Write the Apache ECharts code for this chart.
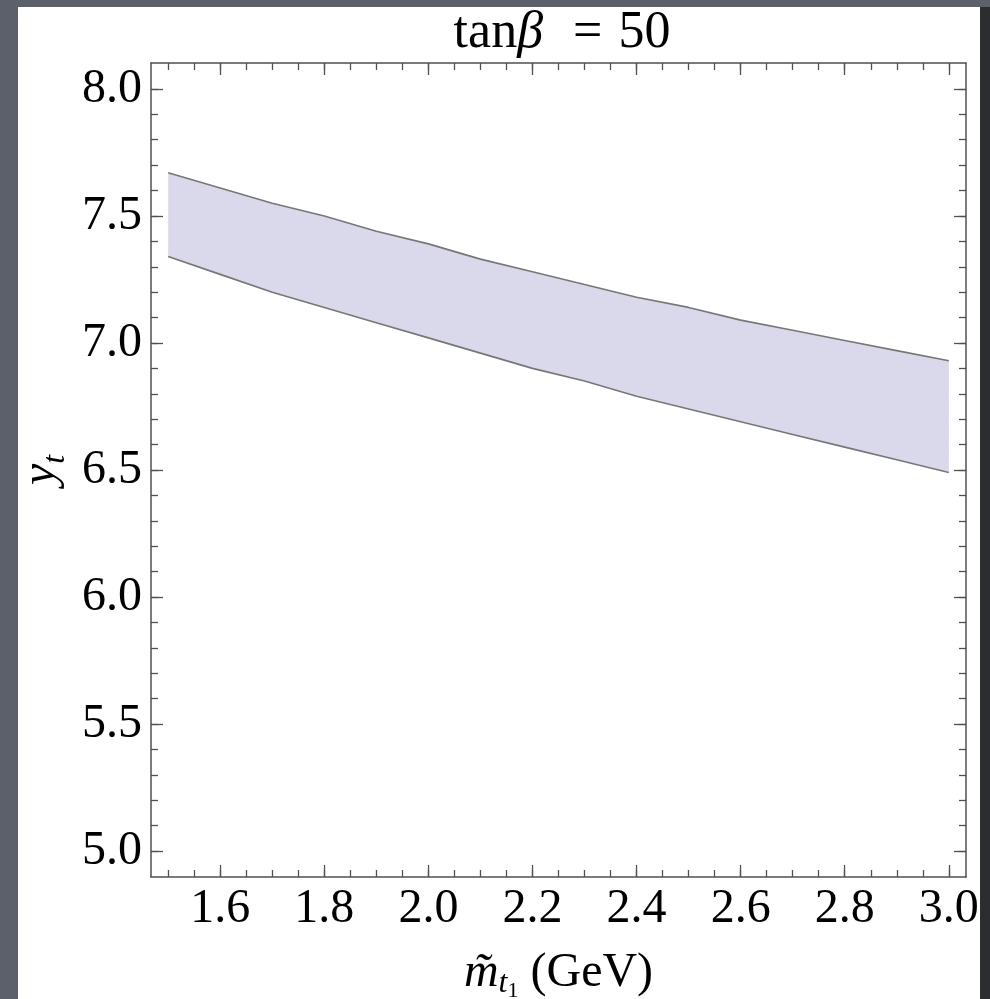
<!doctype html>
<html>
<head>
<meta charset="utf-8">
<title>tan beta = 50</title>
<script src="https://cdn.jsdelivr.net/npm/echarts@6/dist/echarts.min.js"></script>
<style>
  html, body { margin: 0; padding: 0; }
  body { width: 990px; height: 999px; background: #5c606a; position: relative; overflow: hidden; }
  #paper { position: absolute; left: 18px; top: 7px; width: 962px; height: 992px; background: #fff; }
  #edge { position: absolute; left: 980px; top: 7px; width: 10px; height: 992px; background: #2c2d31; }
  #main { position: absolute; left: 0; top: 0; width: 990px; height: 999px; }
</style>
</head>
<body>
<div id="paper"></div>
<div id="edge"></div>
<div id="main"></div>
<script>
// stop mass (GeV)
var mStop = [1.5, 1.6, 1.7, 1.8, 1.9, 2.0, 2.1, 2.2, 2.3, 2.4, 2.5, 2.6, 2.7, 2.8, 2.9, 3.0];
// band edges for y_t
var ytUpper = [7.67, 7.61, 7.55, 7.50, 7.44, 7.39, 7.33, 7.28, 7.23, 7.18, 7.14, 7.09, 7.05, 7.01, 6.97, 6.93];
var ytLower = [7.34, 7.27, 7.20, 7.14, 7.08, 7.02, 6.96, 6.90, 6.85, 6.79, 6.74, 6.69, 6.64, 6.59, 6.54, 6.49];

var xMajor = [1.6, 1.8, 2.0, 2.2, 2.4, 2.6, 2.8, 3.0];
var xMinor = [1.5, 1.55, 1.6, 1.65, 1.7, 1.75, 1.8, 1.85, 1.9, 1.95, 2.0, 2.05, 2.1, 2.15, 2.2, 2.25,
              2.3, 2.35, 2.4, 2.45, 2.5, 2.55, 2.6, 2.65, 2.7, 2.75, 2.8, 2.85, 2.9, 2.95, 3.0];
var yMajor = [5.0, 5.5, 6.0, 6.5, 7.0, 7.5, 8.0];
var yMinor = [5.0, 5.1, 5.2, 5.3, 5.4, 5.5, 5.6, 5.7, 5.8, 5.9, 6.0, 6.1, 6.2, 6.3, 6.4, 6.5,
              6.6, 6.7, 6.8, 6.9, 7.0, 7.1, 7.2, 7.3, 7.4, 7.5, 7.6, 7.7, 7.8, 7.9, 8.0];

var xMin = 1.467, xMax = 3.033;
var yMin = 4.898, yMax = 8.102;

var FONT = 'Liberation Serif';
var frame = '#505050';

function xAx(pos, ticks, len, labels, line) {
    return {
        type: 'value', position: pos, min: xMin, max: xMax, z: 10,
        axisLine: { show: line, onZero: false, lineStyle: { color: frame, width: 1.5 } },
        axisTick: { show: true, inside: true, length: len, customValues: ticks,
                    lineStyle: { color: frame, width: 1.3 } },
        axisLabel: labels ? {
            customValues: xMajor, margin: 8, color: '#000',
            fontFamily: FONT, fontSize: 48,
            formatter: function (v) { return v.toFixed(1); }
        } : { show: false },
        splitLine: { show: false }
    };
}
function yAx(pos, ticks, len, labels, line) {
    return {
        type: 'value', position: pos, min: yMin, max: yMax, z: 10,
        axisLine: { show: line, onZero: false, lineStyle: { color: frame, width: 1.5 } },
        axisTick: { show: true, inside: true, length: len, customValues: ticks,
                    lineStyle: { color: frame, width: 1.3 } },
        axisLabel: labels ? {
            customValues: yMajor, margin: 9, color: '#000',
            fontFamily: FONT, fontSize: 48,
            formatter: function (v) { return v.toFixed(1); }
        } : { show: false },
        splitLine: { show: false }
    };
}

var xAxes = [
    xAx('bottom', xMajor, 12, true, true),
    xAx('bottom', xMinor, 7, false, false),
    xAx('top', xMajor, 12, false, true),
    xAx('top', xMinor, 7, false, false)
];
var yAxes = [
    yAx('left', yMajor, 12, true, true),
    yAx('left', yMinor, 7, false, false),
    yAx('right', yMajor, 12, false, true),
    yAx('right', yMinor, 7, false, false)
];

xAxes[0].name = '{m|m\u0303}{t|t}{s|1}{r| (GeV)}';
xAxes[0].nameLocation = 'middle';
xAxes[0].nameGap = 72;
xAxes[0].nameTextStyle = {
    fontFamily: FONT, color: '#000',
    rich: {
        m: { fontFamily: FONT, fontStyle: 'italic', fontSize: 48, lineHeight: 48, verticalAlign: 'top', color: '#000' },
        t: { fontFamily: FONT, fontStyle: 'italic', fontSize: 32, lineHeight: 32, padding: [19, 0, 0, 0], verticalAlign: 'top', color: '#000' },
        s: { fontFamily: FONT, fontSize: 22, lineHeight: 22, padding: [31, 0, 0, 0], verticalAlign: 'top', color: '#000' },
        r: { fontFamily: FONT, fontSize: 48, lineHeight: 48, verticalAlign: 'top', color: '#000' }
    }
};

yAxes[0].name = '{y|y}{t|t}';
yAxes[0].nameLocation = 'middle';
yAxes[0].nameGap = 84;
yAxes[0].nameTextStyle = {
    fontFamily: FONT, color: '#000',
    rich: {
        y: { fontFamily: FONT, fontStyle: 'italic', fontSize: 48, lineHeight: 48, verticalAlign: 'top', color: '#000' },
        t: { fontFamily: FONT, fontStyle: 'italic', fontSize: 32, lineHeight: 32, padding: [22, 0, 0, 0], verticalAlign: 'top', color: '#000' }
    }
};

var upperData = mStop.map(function (x, i) { return [x, ytUpper[i]]; });
var lowerData = mStop.map(function (x, i) { return [x, ytLower[i]]; });

// band polygon: along the upper edge, back along the lower edge
function renderBand(params, api) {
    var pts = [];
    for (var i = 0; i < mStop.length; i++) pts.push(api.coord([mStop[i], ytUpper[i]]));
    for (var j = mStop.length - 1; j >= 0; j--) pts.push(api.coord([mStop[j], ytLower[j]]));
    return {
        type: 'polygon',
        shape: { points: pts },
        style: { fill: '#d9d9eb', stroke: null }
    };
}

var chart = echarts.init(document.getElementById('main'), null, { renderer: 'canvas' });

chart.setOption({
    animation: false,
    backgroundColor: 'transparent',
    title: {
        text: '{a|tan}{b|\u03b2}{e|=}{a|50}',
        left: 557, top: 2, textAlign: 'center',
        textStyle: {
            fontWeight: 'normal',
            rich: {
                a: { fontFamily: FONT, fontSize: 52, fontWeight: 'normal', color: '#000' },
                b: { fontFamily: FONT, fontSize: 52, fontWeight: 'normal', fontStyle: 'italic', color: '#000' },
                e: { fontFamily: FONT, fontSize: 52, fontWeight: 'normal', color: '#000', padding: [0, 16, 0, 30] }
            }
        }
    },
    grid: { left: 151, top: 63, right: 24, bottom: 122, containLabel: false, outerBoundsMode: 'none' },
    xAxis: xAxes,
    yAxis: yAxes,
    series: [{
        type: 'custom',
        renderItem: renderBand,
        data: [[mStop[0], ytUpper[0]]],
        silent: true,
        z: 1
    }, {
        type: 'line',
        data: upperData,
        symbol: 'none',
        lineStyle: { color: '#777', width: 1.6 },
        z: 3
    }, {
        type: 'line',
        data: lowerData,
        symbol: 'none',
        lineStyle: { color: '#777', width: 1.6 },
        z: 3
    }]
});
</script>
</body>
</html>
